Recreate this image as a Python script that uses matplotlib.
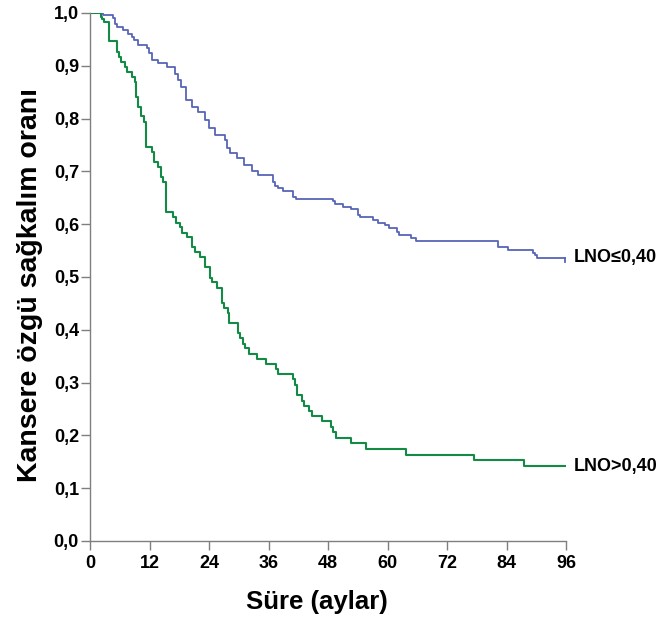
import numpy as np
import matplotlib
matplotlib.use("Agg")
import matplotlib.pyplot as plt

# Kaplan-Meier steps (time in months, survival after event)
low_t = [0, 2.6, 4.7, 5.0, 5.5, 6.7, 7.7, 8.4, 8.9, 9.6, 11.4, 11.8, 12.4, 13.8, 15.5,
         17.2, 17.8, 18.4, 19.3, 20.5, 21.8, 23.2, 24.0, 25.2, 27.2, 27.7, 28.2, 29.7,
         31.0, 32.6, 33.9, 36.9, 37.4, 37.9, 38.9, 40.9, 41.5, 49.0, 49.5, 51.0, 52.6,
         54.0, 54.5, 57.0, 58.0, 59.4, 60.3, 62.0, 62.4, 64.7, 65.8, 82.2, 84.2, 89.3,
         89.8, 90.1, 95.8]
low_s = [1.0, 0.996, 0.990, 0.980, 0.973, 0.968, 0.961, 0.955, 0.948, 0.939, 0.933, 0.925,
         0.911, 0.905, 0.898, 0.885, 0.873, 0.860, 0.835, 0.822, 0.813, 0.797, 0.782, 0.769,
         0.760, 0.744, 0.735, 0.725, 0.712, 0.700, 0.693, 0.680, 0.672, 0.668, 0.663, 0.652,
         0.648, 0.643, 0.638, 0.633, 0.628, 0.617, 0.613, 0.608, 0.603, 0.598, 0.592, 0.586,
         0.579, 0.573, 0.568, 0.557, 0.552, 0.546, 0.541, 0.536, 0.536]

high_t = [0, 2.2, 2.5, 2.8, 3.8, 5.4, 5.8, 6.3, 7.1, 7.5, 8.4, 9.1, 9.3, 9.7, 10.3, 10.9,
          11.2, 12.6, 13.0, 13.8, 14.3, 14.8, 15.3, 16.8, 17.3, 18.2, 18.6, 19.6, 20.6,
          21.2, 22.2, 23.1, 24.2, 24.7, 25.7, 26.7, 27.1, 27.8, 28.1, 29.8, 30.3, 30.8,
          31.2, 32.1, 33.7, 35.5, 37.5, 37.9, 40.9, 41.3, 41.8, 42.8, 43.2, 44.2, 44.7,
          46.7, 48.7, 49.0, 49.6, 52.7, 55.6, 63.8, 77.4, 87.5, 95.9]
high_s = [1.0, 0.993, 0.988, 0.982, 0.946, 0.927, 0.917, 0.908, 0.898, 0.889, 0.879, 0.870,
          0.841, 0.822, 0.804, 0.794, 0.747, 0.737, 0.718, 0.709, 0.690, 0.680, 0.624, 0.613,
          0.603, 0.595, 0.584, 0.575, 0.557, 0.548, 0.537, 0.518, 0.498, 0.490, 0.480, 0.450,
          0.441, 0.431, 0.413, 0.393, 0.384, 0.374, 0.365, 0.354, 0.344, 0.335, 0.325, 0.316,
          0.306, 0.295, 0.276, 0.266, 0.256, 0.246, 0.237, 0.227, 0.216, 0.206, 0.196, 0.185,
          0.174, 0.163, 0.153, 0.142, 0.142]

labels = ["LNO≤0,40", "LNO>0,40"]
x_ticks = [0, 12, 24, 36, 48, 60, 72, 84, 96]
y_ticks = [0.0, 0.1, 0.2, 0.3, 0.4, 0.5, 0.6, 0.7, 0.8, 0.9, 1.0]

plt.rcParams['font.family'] = ['Liberation Sans', 'DejaVu Sans']
plt.rcParams['font.weight'] = 'bold'

fig = plt.figure(figsize=(6.59, 6.18), dpi=100)
ax = fig.add_axes([0.1366, 0.1246, 0.7223, 0.8544])

blue = '#5865b8'
green = '#138a45'
ax.step(low_t, low_s, where='post', color=blue, lw=1.3)
ax.step(high_t, high_s, where='post', color=green, lw=1.5)
# censor tick at the end of the blue curve
ax.plot([low_t[-1], low_t[-1]], [low_s[-1], low_s[-1] - 0.008], color=blue, lw=1.3)

ax.text(97.5, low_s[-1], labels[0], va='center', ha='left', fontsize=13,
        fontweight='bold', clip_on=False)
ax.text(97.5, high_s[-1], labels[1], va='center', ha='left', fontsize=13,
        fontweight='bold', clip_on=False)

ax.set_xlim(0, 96)
ax.set_ylim(0, 1.0)
ax.set_xticks(x_ticks)
ax.set_xticklabels([str(t) for t in x_ticks])
ax.set_yticks(y_ticks)
ax.set_yticklabels([f"{v:.1f}".replace('.', ',') for v in y_ticks])

for side in ['top', 'right']:
    ax.spines[side].set_visible(False)
for side in ['left', 'bottom']:
    ax.spines[side].set_color('#7f7f7f')
    ax.spines[side].set_linewidth(1.0)
ax.tick_params(direction='out', length=6.5, width=1.0, color='#7f7f7f',
               labelsize=13, pad=1.5)
ax.tick_params(axis='x', pad=3.5)
for lbl in ax.get_xticklabels() + ax.get_yticklabels():
    lbl.set_fontweight('bold')

ax.set_xlabel('Süre (aylar)', fontsize=18.5, fontweight='bold')
ax.set_ylabel('Kansere özgü sağkalım oranı', fontsize=20.5, fontweight='bold')
ax.xaxis.set_label_coords(0.477, -0.092)
ax.yaxis.set_label_coords(-0.099, 0.485)

fig.savefig('out.png', dpi=100)
